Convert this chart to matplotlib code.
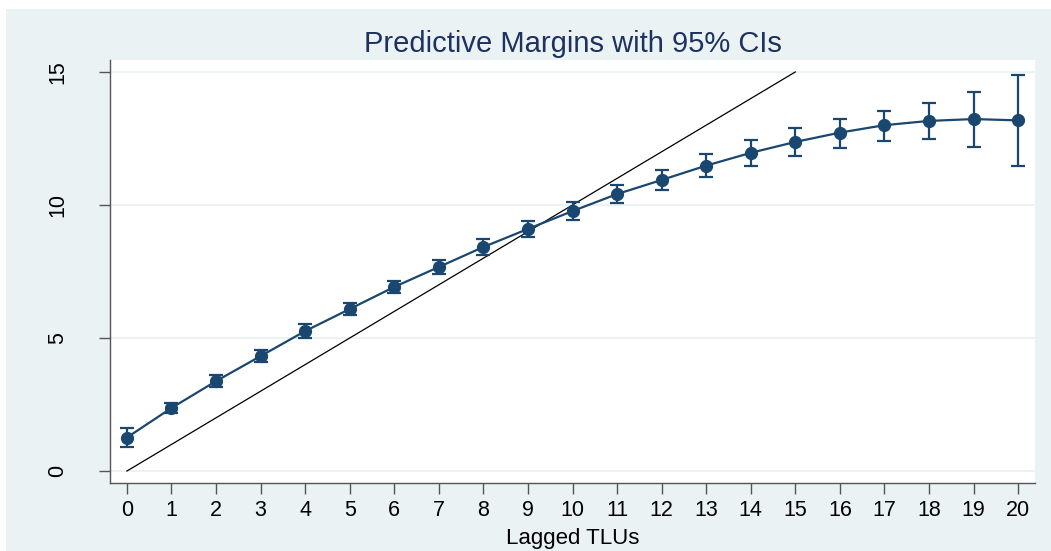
import numpy as np
import matplotlib.pyplot as plt
from matplotlib.patches import Rectangle

plt.rcParams['font.family'] = ['Liberation Sans', 'DejaVu Sans']

# predictive margins
tlus = list(range(21))
margin = [1.26, 2.37, 3.38, 4.32, 5.26, 6.09, 6.92, 7.67, 8.42, 9.10, 9.77,
          10.41, 10.94, 11.48, 11.96, 12.37, 12.72, 13.00, 13.16, 13.23, 13.18]
ci_lo = [0.89, 2.17, 3.16, 4.08, 5.01, 5.87, 6.69, 7.40, 8.12, 8.80, 9.44,
         10.06, 10.56, 11.06, 11.47, 11.84, 12.15, 12.42, 12.48, 12.19, 11.47]
ci_hi = [1.63, 2.57, 3.60, 4.56, 5.51, 6.31, 7.15, 7.94, 8.72, 9.40, 10.10,
         10.76, 11.32, 11.90, 12.44, 12.89, 13.25, 13.53, 13.83, 14.26, 14.90]
diag = [0, 15]

navy = '#1a476f'
bg = '#eaf2f3'

fig = plt.figure(figsize=(10.51, 5.51), dpi=100)
fig.patch.set_facecolor('white')
fig.patches.append(Rectangle((6/1051, 0), 1, 542/551, transform=fig.transFigure,
                             facecolor=bg, edgecolor='none', zorder=-10))

ax = fig.add_axes([110/1051, 68/551, 925/1051, 423/551])
ax.set_facecolor('white')

m = np.array(margin)
yerr = [m - np.array(ci_lo), np.array(ci_hi) - m]
ax.errorbar(tlus, margin, yerr=yerr, color=navy, lw=1.6, marker='o', ms=8.5,
            capsize=5, capthick=1.6, elinewidth=1.6, zorder=3)
ax.plot(diag, diag, color='black', lw=0.9, zorder=2)

ax.set_xlim(-0.38, 20.38)
ax.set_ylim(-0.45, 15.45)
ax.set_xticks(tlus)
ax.set_yticks([0, 5, 10, 15])
ax.grid(True, axis='y', color=bg, lw=1.5)
ax.set_axisbelow(True)

for s in ['top', 'right']:
    ax.spines[s].set_visible(False)
for s in ['left', 'bottom']:
    ax.spines[s].set_color('#555555')
    ax.spines[s].set_linewidth(1.0)

ax.tick_params(axis='both', length=8, width=1, color='#555555', labelsize=15.5)
ax.tick_params(axis='x', pad=4)
ax.tick_params(axis='y', pad=22)
for lab in ax.get_yticklabels():
    lab.set_rotation(90)
    lab.set_va('center')

ax.set_title('Predictive Margins with 95% CIs', fontsize=21, color='#1e3160', pad=6)
ax.set_xlabel('Lagged TLUs', fontsize=16, labelpad=5.5)

fig.savefig('out.png', dpi=100, facecolor=fig.get_facecolor())
